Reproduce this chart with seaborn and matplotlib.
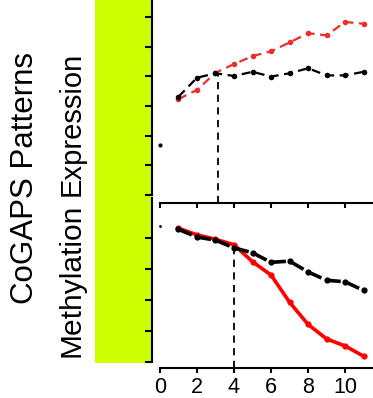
import numpy as np
import pandas as pd
import matplotlib
matplotlib.use("Agg")
import matplotlib.pyplot as plt
from matplotlib.patches import Rectangle
import seaborn as sns

# ---- data -------------------------------------------------------------
timepoints = [1, 2, 3, 4, 5, 6, 7, 8, 9, 10, 11]

expr_red = [3.23, 3.54, 4.12, 4.41, 4.68, 4.84, 5.14, 5.45, 5.38, 5.83, 5.77]
expr_black = [3.31, 3.95, 4.10, 4.01, 4.15, 3.99, 4.10, 4.27, 4.03, 4.03, 4.15]
expr_baseline = 1.68
expr_change_x = 3.12
expr_change_y = 4.10

meth_red = [4.33, 4.11, 3.97, 3.79, 3.24, 2.81, 1.93, 1.21, 0.74, 0.51, 0.18]
meth_black = [4.29, 4.04, 3.94, 3.69, 3.53, 3.22, 3.26, 2.91, 2.64, 2.59, 2.31]
meth_baseline = 4.40
meth_change_x = 4.0
meth_change_y = 3.69

x_ticks = [0, 2, 4, 6, 8, 10]
row_labels = ["Expression", "Methylation"]
side_label = "CoGAPS Patterns"

# ---- style ------------------------------------------------------------
sns.set_style("ticks")
plt.rcParams["font.family"] = ["Liberation Sans", "DejaVu Sans"]

W, H = 373, 398
fig = plt.figure(figsize=(W / 100, H / 100), dpi=100)
fig.patch.set_facecolor("white")


def fx(px):
    return px / W


def fy(py):
    return 1 - py / H


# coloured sidebar behind the y axes
fig.add_artist(Rectangle((fx(95), fy(362.7)), fx(152) - fx(95), 1 - fy(362.7),
                         transform=fig.transFigure, facecolor="#CCFF00",
                         edgecolor="none", zorder=-1))

ax_top = fig.add_axes([fx(152), fy(202.7), 1 - fx(152), 1 - fy(202.7)])
ax_bot = fig.add_axes([fx(152), fy(368.3), 1 - fx(152), fy(198) - fy(368.3)])

xlim = (-0.43, 11.51)


def style_axis(ax, ylim, yticks, show_xlabels):
    ax.set_facecolor("none")
    ax.set_xlim(*xlim)
    ax.set_ylim(*ylim)
    for side in ("top", "right"):
        ax.spines[side].set_visible(False)
    for side in ("left", "bottom"):
        ax.spines[side].set_linewidth(1.5)
        ax.spines[side].set_color("black")
    ax.spines["left"].set_bounds(0, ylim[1])
    ax.spines["bottom"].set_bounds(0, xlim[1])
    ax.set_yticks(yticks)
    ax.set_yticklabels([])
    ax.set_xticks(x_ticks)
    if show_xlabels:
        ax.set_xticklabels([str(t) for t in x_ticks], fontsize=15.5)
    else:
        ax.set_xticklabels([])
    ax.tick_params(axis="y", direction="out", length=5, width=1.5, color="black")
    ax.tick_params(axis="x", direction="out", length=3.4, width=1.5, color="black",
                   pad=3, labelcolor="black")
    ax.set_xlabel("")
    ax.set_ylabel("")


# ---- expression panel -------------------------------------------------
ax_top.vlines(expr_change_x, -0.26, expr_change_y, colors="black",
              linestyles=(0, (4, 3)), linewidth=1.3, zorder=1)
sns.lineplot(x=timepoints, y=expr_black, ax=ax_top, color="black",
             linewidth=1.6, marker="o", markersize=4, markeredgewidth=0,
             dashes=False, linestyle=(0, (4, 2.5)), zorder=3)
sns.lineplot(x=timepoints, y=expr_red, ax=ax_top, color="#EE2C2C",
             linewidth=1.6, marker="o", markersize=4, markeredgewidth=0,
             dashes=False, linestyle=(0, (4, 2.5)), zorder=2)
sns.scatterplot(x=[0], y=[expr_baseline], ax=ax_top, color="black", s=9,
                linewidth=0, zorder=3)
style_axis(ax_top, (-0.26, 6.57), [0, 1, 2, 3, 4, 5, 6], show_xlabels=False)

# ---- methylation panel ------------------------------------------------
ax_bot.vlines(meth_change_x, -0.214, meth_change_y, colors="black",
              linestyles=(0, (4, 3)), linewidth=1.3, zorder=1)
sns.lineplot(x=timepoints, y=meth_red, ax=ax_bot, color="#FF0000",
             linewidth=2.6, marker="o", markersize=4.5, markeredgewidth=0,
             dashes=False, zorder=2)
sns.lineplot(x=timepoints, y=meth_black, ax=ax_bot, color="black",
             linewidth=2.6, marker="o", markersize=4.5, markeredgewidth=0,
             dashes=False, linestyle=(0, (4, 1.5)), zorder=3)
sns.scatterplot(x=[0], y=[meth_baseline], ax=ax_bot, color="black", s=4,
                linewidth=0, zorder=3)
style_axis(ax_bot, (-0.214, 5.306), [0, 1, 2, 3, 4], show_xlabels=True)

# ---- row and side labels ---------------------------------------------
label_kw = dict(rotation=90, rotation_mode="anchor", ha="center",
                va="baseline", color="black")
fig.text(fx(80), fy(124), row_labels[0], fontsize=21, **label_kw)
fig.text(fx(80), fy(280), row_labels[1], fontsize=21.5, **label_kw)
fig.text(fx(33), fy(178), side_label, fontsize=22.5, **label_kw)

fig.savefig("out.png", dpi=100, facecolor="white")
